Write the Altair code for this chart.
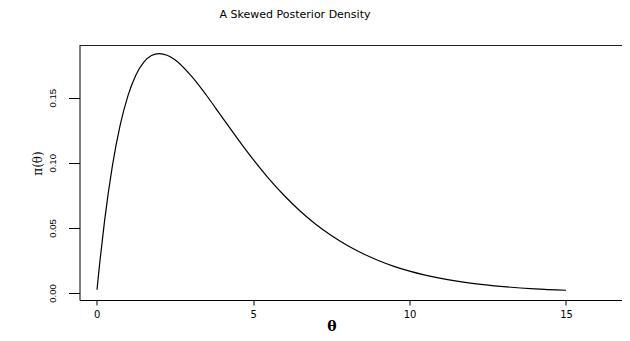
import altair as alt
import pandas as pd

theta = [0.01, 0.05, 0.1, 0.25, 0.5, 0.75, 1.0, 1.25, 1.5, 1.75, 2.0, 2.25, 2.5, 3.0, 3.5,
         4.0, 4.5, 5.0, 5.5, 6.0, 6.5, 7.0, 7.5, 8.0, 8.5, 9.0, 9.5, 10.0, 11.0, 12.0,
         13.0, 14.0, 15.0]
density = [0.0025, 0.0122, 0.0238, 0.0552, 0.0974, 0.1289, 0.1516, 0.1673, 0.1771, 0.1824,
           0.1839, 0.1826, 0.1791, 0.1673, 0.1521, 0.1353, 0.1186, 0.1026, 0.0879, 0.0747,
           0.0630, 0.0528, 0.0441, 0.0366, 0.0303, 0.0250, 0.0205, 0.0168, 0.0112, 0.0074,
           0.0049, 0.0032, 0.0021]
x_ticks = [0, 5, 10, 15]
y_ticks = [0.0, 0.05, 0.10, 0.15]
title_text = ["A Skewed Posterior Density"]

df = pd.DataFrame({"theta": theta, "density": density})
df_title = pd.DataFrame({"label": title_text})

W = 542.5
H = 255

line = alt.Chart(df).mark_line(color="black", strokeWidth=1.2, interpolate="monotone").encode(
    x=alt.X("theta:Q",
            scale=alt.Scale(domain=[-0.55, 16.79], nice=False, zero=False),
            axis=alt.Axis(values=x_ticks, title="θ", grid=False, domainColor="black",
                          tickColor="black", tickSize=5, labelPadding=4,
                          labelFont="DejaVu Sans", labelFontSize=10, labelColor="black",
                          labelFlush=False,
                          titleFont="DejaVu Serif", titleFontSize=14, titleFontWeight="bold",
                          titleColor="black", titleX=252, titleY=26, titleBaseline="middle",
                          titleAlign="center")),
    y=alt.Y("density:Q",
            scale=alt.Scale(domain=[-0.00538, 0.1905], nice=False, zero=False),
            axis=alt.Axis(values=y_ticks, format=".2f", title="π(θ)", grid=False,
                          domainColor="black", tickColor="black", tickSize=11,
                          labelPadding=11, labelAngle=270, labelAlign="center",
                          labelBaseline="bottom", labelFont="Liberation Sans",
                          labelFontSize=9.5, labelColor="black", labelFlush=False,
                          titleFont="DejaVu Serif", titleFontSize=12, titleFontWeight="normal",
                          titleColor="black", titleAngle=270, titleX=-42, titleY=118,
                          titleAlign="center", titleBaseline="middle")),
)

top_rule = alt.Chart(df_title).mark_rule(color="#222222", strokeWidth=1).encode(
    x=alt.value(0), x2=alt.value(W), y=alt.value(0.5)
)

title = alt.Chart(df_title).mark_text(
    font="DejaVu Sans", fontSize=11, color="black", align="center", baseline="middle"
).encode(
    text="label:N", x=alt.value(295 - 79.5), y=alt.value(14.5 - 45)
)

chart = alt.layer(line, top_rule, title).properties(
    width=W, height=H,
    autosize=alt.AutoSizeParams(type="none"),
    padding={"left": 71.5, "top": 37, "right": 0, "bottom": 33},
    background="white",
).configure_view(stroke=None)

chart.save("out.html", embed_options={"renderer": "svg", "actions": False})
